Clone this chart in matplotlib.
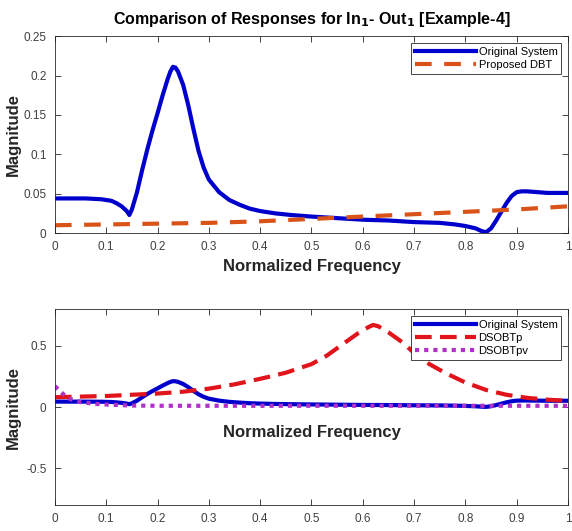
import matplotlib

matplotlib.use("Agg")
import matplotlib.pyplot as plt

plt.rcParams["font.family"] = ["Liberation Sans", "DejaVu Sans"]

# values
freq_orig = [0.0, 0.03, 0.06, 0.09, 0.11, 0.12, 0.13, 0.14, 0.145, 0.15, 0.16, 0.17,
             0.18, 0.19, 0.2, 0.21, 0.22, 0.225, 0.23, 0.235, 0.24, 0.25, 0.26, 0.27,
             0.28, 0.29, 0.3, 0.32, 0.34, 0.36, 0.38, 0.4, 0.43, 0.46, 0.5, 0.55,
             0.6, 0.65, 0.7, 0.75, 0.78, 0.8, 0.82, 0.83, 0.84, 0.85, 0.86, 0.87,
             0.88, 0.89, 0.9, 0.91, 0.92, 0.94, 0.96, 0.98, 1.0]
mag_orig = [0.044, 0.044, 0.044, 0.043, 0.041, 0.038, 0.034, 0.028, 0.023, 0.030, 0.052, 0.080,
            0.106, 0.130, 0.152, 0.175, 0.196, 0.205, 0.211, 0.210, 0.205, 0.188, 0.162, 0.132,
            0.104, 0.083, 0.068, 0.052, 0.042, 0.036, 0.031, 0.028, 0.025, 0.023, 0.021, 0.019,
            0.017, 0.016, 0.014, 0.013, 0.011, 0.009, 0.006, 0.003, 0.001, 0.006, 0.016, 0.027,
            0.038, 0.047, 0.052, 0.053, 0.053, 0.052, 0.051, 0.051, 0.051]

freq_dbt = [0.0, 0.1, 0.2, 0.3, 0.4, 0.5, 0.6, 0.7, 0.8, 0.9, 1.0]
mag_dbt = [0.010, 0.011, 0.012, 0.013, 0.015, 0.018, 0.021, 0.024, 0.027, 0.030, 0.034]

freq_p = [0.0, 0.1, 0.2, 0.25, 0.3, 0.35, 0.4, 0.45, 0.5, 0.53, 0.56, 0.59, 0.61,
          0.62, 0.63, 0.65, 0.68, 0.7, 0.73, 0.76, 0.8, 0.84, 0.88, 0.92, 0.96, 1.0]
mag_p = [0.08, 0.09, 0.11, 0.125, 0.15, 0.185, 0.23, 0.28, 0.35, 0.42, 0.51, 0.60, 0.65,
         0.67, 0.66, 0.61, 0.52, 0.44, 0.35, 0.28, 0.20, 0.14, 0.10, 0.075, 0.06, 0.05]

freq_pv = [0.0, 0.01, 0.02, 0.03, 0.05, 0.08, 0.11, 0.15, 0.2, 0.4, 0.6, 0.8, 1.0]
mag_pv = [0.17, 0.13, 0.09, 0.065, 0.04, 0.025, 0.018, 0.012, 0.01, 0.01, 0.01, 0.01, 0.01]

xticks = [0, 0.1, 0.2, 0.3, 0.4, 0.5, 0.6, 0.7, 0.8, 0.9, 1]
xticklabels = ["0", "0.1", "0.2", "0.3", "0.4", "0.5", "0.6", "0.7", "0.8", "0.9", "1"]

BLUE = "#0000cc"
ORANGE = "#d95319"
RED = "#e0141a"
PURPLE = "#b030c8"
INK = "#262626"


def style_axes(ax):
    ax.set_xlim(0, 1)
    ax.set_xticks(xticks, labels=xticklabels)
    ax.tick_params(direction="in", top=True, right=True, labelsize=8.5,
                   colors=INK, labelcolor="#404040", length=4, width=0.6, pad=6)
    for s in ax.spines.values():
        s.set_linewidth(0.6)
        s.set_color(INK)


def add_legend(ax):
    leg = ax.legend(loc="upper right", fontsize=8, frameon=True, fancybox=False,
                    edgecolor=INK, framealpha=1, handlelength=5.5, borderpad=0.35,
                    labelspacing=0.3, handletextpad=0.2, borderaxespad=0.6)
    leg.get_frame().set_linewidth(0.6)


fig = plt.figure(figsize=(5.72, 5.31), dpi=100)

ax1 = fig.add_axes([0.096, 0.561, 0.897, 0.371])
ax1.plot(freq_orig, mag_orig, color=BLUE, lw=3, label="Original System")
ax1.plot(freq_dbt, mag_dbt, color=ORANGE, lw=3, dashes=(4, 3), label="Proposed DBT")
style_axes(ax1)
ax1.set_ylim(0, 0.25)
ax1.set_yticks([0, 0.05, 0.1, 0.15, 0.2, 0.25], labels=["0", "0.05", "0.1", "0.15", "0.2", "0.25"])
ax1.set_xlabel("Normalized Frequency", fontsize=12, fontweight="bold", labelpad=4, color=INK)
ax1.set_ylabel("Magnitude", fontsize=12, fontweight="bold", color=INK)
ax1.yaxis.set_label_coords(-0.066, 0.5)
ax1.set_title("Comparison of Responses for In$_\\mathbf{1}$- Out$_\\mathbf{1}$ [Example-4]",
              fontsize=11.5, fontweight="bold", pad=9)
add_legend(ax1)

ax2 = fig.add_axes([0.096, 0.049, 0.897, 0.369])
ax2.plot(freq_orig, mag_orig, color=BLUE, lw=3, label="Original System")
ax2.plot(freq_p, mag_p, color=RED, lw=3, dashes=(4, 2), label="DSOBTp")
ax2.plot(freq_pv, mag_pv, color=PURPLE, lw=3, dashes=(1, 1.2), label="DSOBTpv")
style_axes(ax2)
ax2.set_ylim(-0.8, 0.8)
ax2.set_yticks([-0.5, 0, 0.5], labels=["-0.5", "0", "0.5"])
ax2.set_ylabel("Magnitude", fontsize=12, fontweight="bold", color=INK)
ax2.yaxis.set_label_coords(-0.066, 0.5)
ax2.text(0.5, 0.37, "Normalized Frequency", transform=ax2.transAxes, ha="center",
         va="center", fontsize=12, fontweight="bold", color=INK)
add_legend(ax2)

fig.savefig("out.png", dpi=100)
